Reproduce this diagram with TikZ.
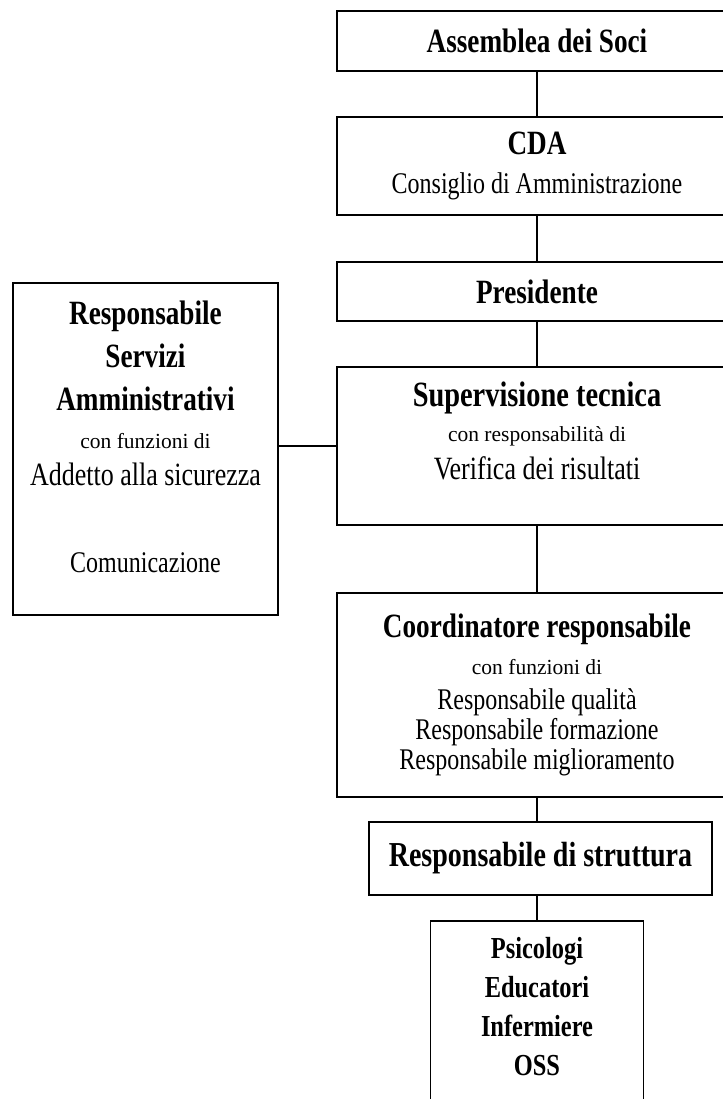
\documentclass[tikz,border=0pt]{standalone}
\usepackage{fontspec}
\setmainfont{Liberation Serif}[FakeStretch=0.8]
\newfontfamily\smallfont{Liberation Serif}
\newcommand\hd{\bfseries\fontsize{34}{44}\selectfont}
\newcommand\tx{\mdseries\fontsize{30}{30}\selectfont}
\newcommand\txl{\mdseries\fontsize{32.5}{30}\selectfont}
\newcommand\sm{\smallfont\mdseries\fontsize{21.5}{22}\selectfont}
\tikzset{box/.style={draw,line width=1.5pt,inner sep=2pt,align=center,font=\hd},
  link/.style={line width=1.5pt}}
\begin{document}
\begin{tikzpicture}[x=1pt,y=-1pt]
   \useasboundingbox (0,0) rectangle (722,1099);
   \node[box,minimum width=400pt,minimum height=60pt] (soci) at (537,41) {Assemblea dei Soci};
   \node[box,minimum width=400pt,minimum height=98pt] (cda) at (537,166)
   {CDA\\[-5pt]{\tx Consiglio di Amministrazione}};
   \node[box,minimum width=400pt,minimum height=59pt] (pres) at (537,291.5) {Presidente};
   \node[box,minimum width=400pt,minimum height=158pt] (sup) at (537,446)
   {{\fontsize{35.5}{44}\selectfont Supervisione tecnica}\\[-9pt]{\sm con responsabilità di}\\[-6pt]%
   {\txl Verifica dei risultati\rule[-30pt]{0pt}{0pt}}};
   \node[box,minimum width=265pt,minimum height=332pt] (amm) at (145.5,449)
   {Responsabile\\[-1pt]Servizi\\[-1pt]Amministrativi\\[-6.5pt]{\sm con funzioni di}\\[-7pt]%
   {\txl Addetto alla sicurezza}\\[43pt]{\tx Comunicazione\rule[-25pt]{0pt}{0pt}}};
   \node[box,minimum width=400pt,minimum height=204pt] (coord) at (537,695)
   {Coordinatore responsabile\\[-6.5pt]{\sm con funzioni di}\\[-9pt]{\tx Responsabile qualità}\\[-14pt]%
   {\tx Responsabile formazione}\\[-14pt]{\tx Responsabile miglioramento}};
   \node[box,minimum width=343pt,minimum height=73pt,font=\bfseries\fontsize{35}{44}\selectfont]
   (strutt) at (540.5,858.5) {Responsabile di struttura};
   \node[box,anchor=north,minimum width=213pt,inner ysep=17pt,font=\bfseries\fontsize{30.5}{39}\selectfont]
   (oper) at (537,920) {Psicologi\\Educatori\\Infermiere\\OSS\rule[-40pt]{0pt}{0pt}};
   \draw[link] (soci) -- (cda);
   \draw[link] (cda) -- (pres);
   \draw[link] (pres) -- (sup);
   \draw[link] (sup) -- (coord);
   \draw[link] (sup.west) -- (sup.west -| amm.east);
   \draw[link] (coord.south) -- (coord.south |- strutt.north);
   \draw[link] (oper.north) -- (oper.north |- strutt.south);
\end{tikzpicture}
\end{document}
